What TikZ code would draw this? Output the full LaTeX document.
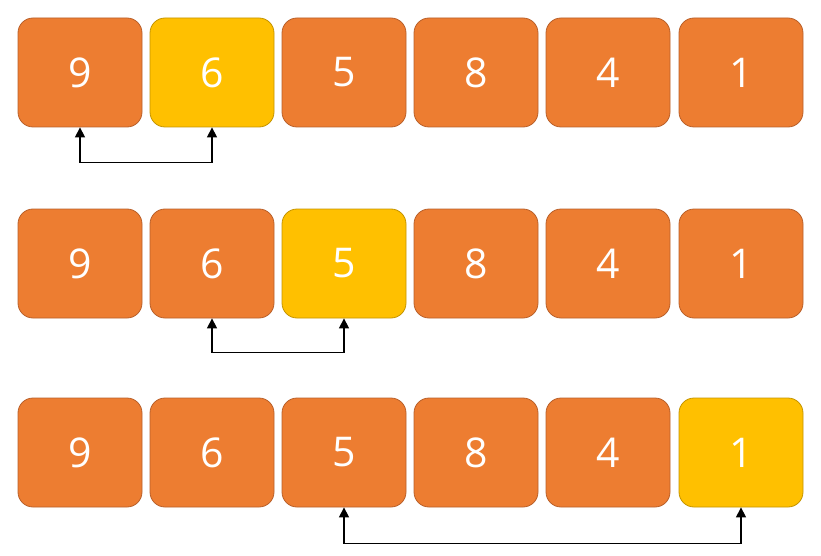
\documentclass[tikz,border=0pt]{standalone}
\usepackage{fontspec}
\setmainfont{Open Sans}
\usetikzlibrary{arrows.meta}
\definecolor{orfill}{HTML}{ED7D31}
\definecolor{ordraw}{HTML}{B9602A}
\definecolor{yefill}{HTML}{FFC000}
\definecolor{yedraw}{HTML}{C49400}
\tikzset{
  cell/.style={rounded corners=15pt, minimum width=124pt, minimum height=109pt, inner sep=0pt,
    text=white, font=\fontsize{41}{41}\selectfont, line width=0.8pt},
  ocell/.style={cell, fill=orfill, draw=ordraw},
  ycell/.style={cell, fill=yefill, draw=yedraw},
  swap/.style={line width=1.3pt, {Triangle[length=10pt,width=10pt]}-{Triangle[length=10pt,width=10pt]}}
}
\begin{document}
\begin{tikzpicture}[x=1pt,y=-1pt]
\useasboundingbox (0,0) rectangle (821,556);
% row 1
\node[ocell] (a1) at (80,72.5) {9};
\node[ycell] (a2) at (212,72.5) {6};
\node[ocell] (a3) at (344,72.5) {5};
\node[ocell] (a4) at (476,72.5) {8};
\node[ocell] (a5) at (608,72.5) {4};
\node[ocell] (a6) at (741,72.5) {1};
% row 2
\node[ocell] (b1) at (80,263.5) {9};
\node[ocell] (b2) at (212,263.5) {6};
\node[ycell] (b3) at (344,263.5) {5};
\node[ocell] (b4) at (476,263.5) {8};
\node[ocell] (b5) at (608,263.5) {4};
\node[ocell] (b6) at (741,263.5) {1};
% row 3
\node[ocell] (c1) at (80,452.5) {9};
\node[ocell] (c2) at (212,452.5) {6};
\node[ocell] (c3) at (344,452.5) {5};
\node[ocell] (c4) at (476,452.5) {8};
\node[ocell] (c5) at (608,452.5) {4};
\node[ycell] (c6) at (741,452.5) {1};
% connectors
\draw[swap] (a1.south) -- ++(0,35) -| (a2.south);
\draw[swap] (b2.south) -- ++(0,34) -| (b3.south);
\draw[swap] (c3.south) -- ++(0,36) -| (c6.south);
\end{tikzpicture}
\end{document}
